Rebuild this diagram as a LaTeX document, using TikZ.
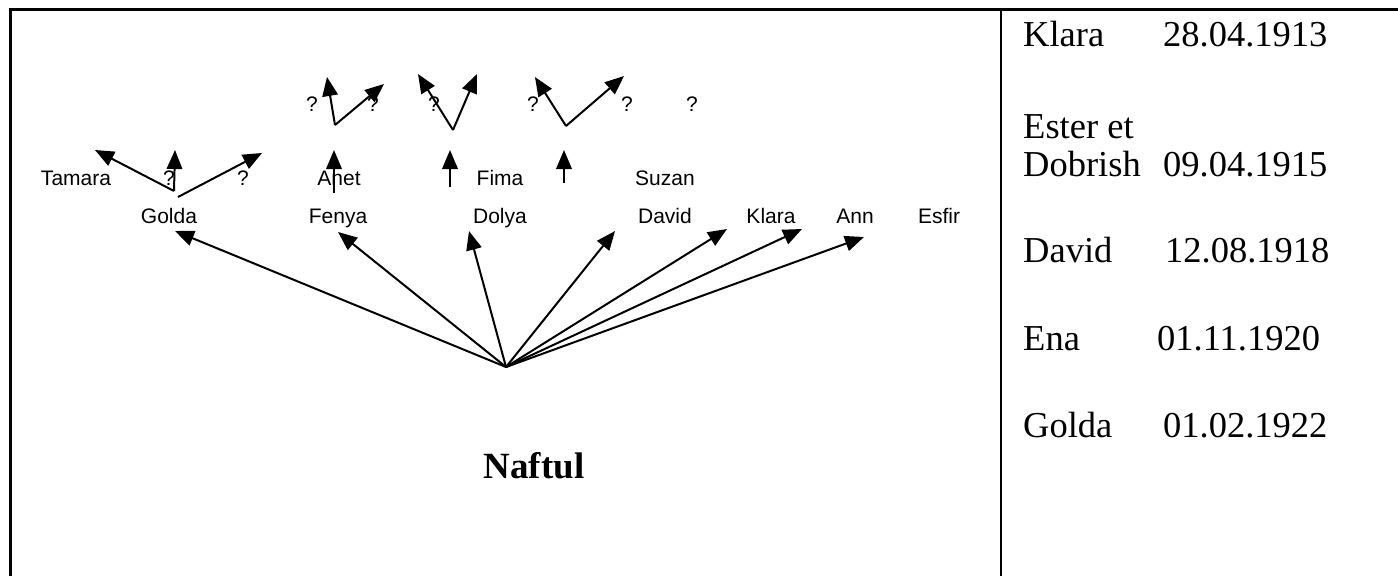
\documentclass[tikz,border=0pt]{standalone}
\usepackage{fontspec}
\setmainfont{Liberation Serif}
\setsansfont{Liberation Sans}
\usetikzlibrary{arrows.meta}
\begin{document}
\begin{tikzpicture}[x=1pt,y=-1pt,
  conn/.style={line width=2pt,-{Triangle[length=19pt,width=15.5pt]}},
  lbl/.style={font=\sffamily\fontsize{21}{24}\selectfont, anchor=base, inner sep=0},
  datum/.style={font=\fontsize{36.5}{40}\selectfont, anchor=base west, inner sep=0},
  frameline/.style={line width=2.2pt}]
\useasboundingbox (0,0) rectangle (1398,576);
% frame
\draw[frameline] (10.5,576) -- (10.5,9.5) -- (1398,9.5);
\draw[frameline] (1001,9.5) -- (1001,576);
% right column
\node[datum] (k1) at (1023,46) {Klara};
\node[datum] (k2) at (1163,46) {28.04.1913};
\node[datum] (e1) at (1023,138) {Ester et};
\node[datum] (e2) at (1023,176) {Dobrish};
\node[datum] (e3) at (1163,176) {09.04.1915};
\node[datum] (d1) at (1023,262) {David};
\node[datum] (d2) at (1165,262) {12.08.1918};
\node[datum] (n1) at (1023,350) {Ena};
\node[datum] (n2) at (1157,350) {01.11.1920};
\node[datum] (g1) at (1023,437) {Golda};
\node[datum] (g2) at (1163,437) {01.02.1922};
% Naftul
\node[font=\bfseries\fontsize{37}{40}\selectfont, anchor=base, inner sep=0] (naftul) at (534,478) {Naftul};
% row 2 labels
\node[lbl] (golda) at (169,223) {Golda};
\node[lbl] (fenya) at (338,223) {Fenya};
\node[lbl] (dolya) at (500,223) {Dolya};
\node[lbl] (david) at (665,223) {David};
\node[lbl] (klara) at (771,223) {Klara};
\node[lbl] (ann) at (855,223) {Ann};
\node[lbl] (esfir) at (939,223) {Esfir};
% row 1 labels
\node[lbl] (tamara) at (76,185) {Tamara};
\node[lbl] (q1) at (169,185) {?};
\node[lbl] (q2) at (243,185) {?};
\node[lbl] (anet) at (339,185) {Anet};
\node[lbl] (fima) at (500,185) {Fima};
\node[lbl] (suzan) at (665,185) {Suzan};
% top ? labels
\node[lbl] (q3) at (312,111) {?};
\node[lbl] (q4) at (373,111) {?};
\node[lbl] (q5) at (434,111) {?};
\node[lbl] (q6) at (533,111) {?};
\node[lbl] (q7) at (627,111) {?};
\node[lbl] (q8) at (692,111) {?};
% coordinates
\coordinate (o) at (506,367);
\coordinate (tg) at (175,231);
\coordinate (tf) at (338,232);
\coordinate (td) at (469,231);
\coordinate (tdv) at (615,231);
\coordinate (tk) at (727,229);
\coordinate (ta) at (802,229);
\coordinate (te) at (864,237);
% main arrows
\foreach \t in {tg,tf,td,tdv,tk,ta,te} \draw[conn] (o) -- (\t);
% Golda's children
\coordinate (ga) at (174,191);
\coordinate (gb) at (178,197);
\coordinate (gt1) at (95,150);
\coordinate (gt2) at (175,150);
\coordinate (gt3) at (262,153);
\draw[conn] (ga) -- (gt1);
\draw[conn] (ga) -- (gt2);
\draw[conn] (gb) -- (gt3);
% verticals
\coordinate (v1a) at (334,193); \coordinate (v1b) at (334,150);
\coordinate (v2a) at (450,187); \coordinate (v2b) at (450,150);
\coordinate (v3a) at (564,183); \coordinate (v3b) at (564,150);
\draw[conn] (v1a) -- (v1b);
\draw[conn] (v2a) -- (v2b);
\draw[conn] (v3a) -- (v3b);
% upper pairs
\coordinate (p1) at (335,125); \coordinate (p1l) at (327,77); \coordinate (p1r) at (384,84);
\coordinate (p2) at (453,130); \coordinate (p2l) at (418,74); \coordinate (p2r) at (477,74);
\coordinate (p3) at (566,126); \coordinate (p3l) at (535,77); \coordinate (p3r) at (624,76);
\draw[conn] (p1) -- (p1l); \draw[conn] (p1) -- (p1r);
\draw[conn] (p2) -- (p2l); \draw[conn] (p2) -- (p2r);
\draw[conn] (p3) -- (p3l); \draw[conn] (p3) -- (p3r);
\end{tikzpicture}
\end{document}
